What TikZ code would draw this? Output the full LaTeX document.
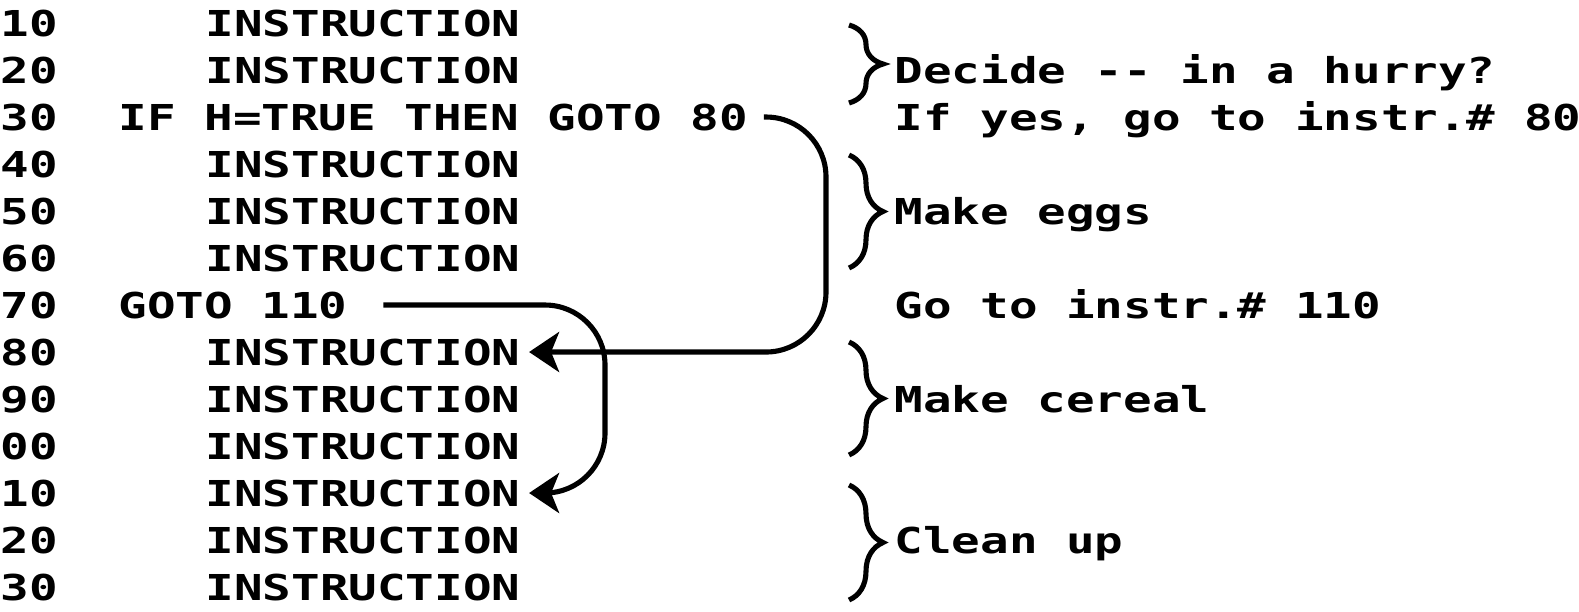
\documentclass[tikz,border=0pt]{standalone}
\usepackage{fontspec}
\setmonofont{DejaVu Sans Mono}[FakeStretch=1.332]
\usepackage{tikz}
\usetikzlibrary{arrows.meta,decorations.pathreplacing}

\begin{document}
\begin{tikzpicture}[
        code/.style={anchor=base west,inner sep=0pt,font=\ttfamily\bfseries\fontsize{10.15pt}{12pt}\selectfont},
        jump/.style={line width=1.45pt,rounded corners=0.6cm,-{Stealth[length=0.3cm,width=0.4cm,inset=0.08cm]}},
        bracket/.style={line width=1.45pt,decorate,decoration={brace,amplitude=0.34cm}}]
            \useasboundingbox (0,0) rectangle (15.79,-6.12);
            % line numbers
            \draw (0,-0.36) node[code] (num1) {10};
            \draw (0,-0.83) node[code] (num2) {20};
            \draw (0,-1.30) node[code] (num3) {30};
            \draw (0,-1.77) node[code] (num4) {40};
            \draw (0,-2.24) node[code] (num5) {50};
            \draw (0,-2.71) node[code] (num6) {60};
            \draw (0,-3.18) node[code] (num7) {70};
            \draw (0,-3.65) node[code] (num8) {80};
            \draw (0,-4.12) node[code] (num9) {90};
            \draw (0,-4.59) node[code] (num10) {00};
            \draw (0,-5.06) node[code] (num11) {10};
            \draw (0,-5.53) node[code] (num12) {20};
            \draw (0,-6.00) node[code] (num13) {30};
            % statements
            \draw (2.05,-0.36) node[code] (code1) {INSTRUCTION};
            \draw (2.05,-0.83) node[code] (code2) {INSTRUCTION};
            \draw (1.18,-1.30) node[code] (code3) {IF H=TRUE THEN GOTO 80};
            \draw (2.05,-1.77) node[code] (code4) {INSTRUCTION};
            \draw (2.05,-2.24) node[code] (code5) {INSTRUCTION};
            \draw (2.05,-2.71) node[code] (code6) {INSTRUCTION};
            \draw (1.18,-3.18) node[code] (code7) {GOTO 110};
            \draw (2.05,-3.65) node[code] (code8) {INSTRUCTION};
            \draw (2.05,-4.12) node[code] (code9) {INSTRUCTION};
            \draw (2.05,-4.59) node[code] (code10) {INSTRUCTION};
            \draw (2.05,-5.06) node[code] (code11) {INSTRUCTION};
            \draw (2.05,-5.53) node[code] (code12) {INSTRUCTION};
            \draw (2.05,-6.00) node[code] (code13) {INSTRUCTION};
            % comments
            \draw (8.94,-0.83) node[code] (decide) {Decide -- in a hurry?};
            \draw (8.94,-1.30) node[code] (ifyes) {If yes, go to instr.\# 80};
            \draw (8.94,-2.24) node[code] (eggs) {Make eggs};
            \draw (8.94,-3.18) node[code] (goto) {Go to instr.\# 110};
            \draw (8.94,-4.12) node[code] (cereal) {Make cereal};
            \draw (8.94,-5.53) node[code] (clean) {Clean up};
            \draw[bracket] (8.49,-0.25) -- (8.49,-1.03);
            \draw[bracket] (8.49,-1.55) -- (8.49,-2.68);
            \draw[bracket] (8.49,-3.42) -- (8.49,-4.55);
            \draw[bracket] (8.49,-4.85) -- (8.49,-6.00);
            % jumps
            \coordinate (eggsrail) at (8.26,0);
            \coordinate (cerealrail) at (6.05,0);
            \draw[jump,shorten <=0.15cm,shorten >=0.08cm] (code3.east) -| (eggsrail |- code8.east) -- (code8.east);
            \draw[jump,shorten <=0.35cm,shorten >=0.08cm] (code7.east) -| (cerealrail |- code11.east) -- (code11.east);
        \end{tikzpicture}
\end{document}
